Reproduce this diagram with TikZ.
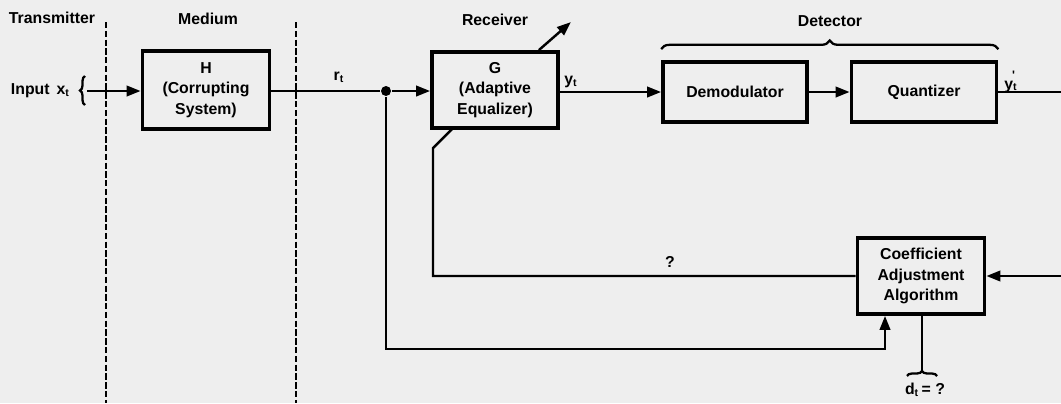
\documentclass[tikz,border=0pt]{standalone}
\usepackage{fontspec}
\setsansfont{Liberation Sans}
\usetikzlibrary{arrows.meta, positioning, calc, decorations.pathreplacing}
\definecolor{cpaper}{HTML}{EEEEEE}
\tikzset{
  every picture/.style={font=\sffamily\bfseries\fontsize{9}{11.5}\selectfont, line width=1.4pt},
  block/.style={draw, line width=2.2pt, align=center, inner sep=2pt},
  arrow/.style={-{Triangle[length=2.8mm, width=2.1mm]}, line width=1.4pt},
  border/.style={dash pattern=on 3.6pt off 1.4pt, line width=1.5pt},
  tag/.style={inner sep=1pt},
  curly/.style={decorate, decoration={brace, amplitude=#1}, line width=1.3pt},
  curly/.default=0.16cm,
}

\begin{document}
\begin{tikzpicture}[x=0.02cm, y=-0.02cm]
  \fill[cpaper] (0,0) rectangle (1061,403);
  \useasboundingbox (0,0) rectangle (1061,403);

  % section titles
  \node[tag] (tx) at (52,18) {Transmitter};
  \node[tag] (med) at (208,19) {Medium};
  \node[tag] (rcv) at (495,20) {Receiver};
  \node[tag] (det) at (830,21) {Detector};

  % borders between sections
  \draw[border] (106,22) -- (106,403);
  \draw[border] (296,22) -- (296,403);

  % blocks
  \node[block, minimum width=2.54cm, minimum height=1.56cm] (hbox) at (206,90) {H\\(Corrupting\\System)};
  \node[block, minimum width=2.52cm, minimum height=1.52cm] (gbox) at (495,90) {G\\(Adaptive\\Equalizer)};
  \node[block, minimum width=2.88cm, minimum height=1.2cm] (demod) at (735,92) {Demodulator};
  \node[block, minimum width=2.9cm, minimum height=1.2cm] (quant) at (924,92) {Quantizer};
  \node[block, minimum width=2.54cm, minimum height=1.52cm] (coef) at (921,276) {Coefficient\\Adjustment\\Algorithm};

  % input
  \node[tag, anchor=west] (input) at (8,91) {Input\, x\textsubscript{t}};
  \draw[curly=0.1cm] (85,105) -- (85,76);
  \coordinate (in) at (87,91);
  \draw[arrow] (in) -- (hbox.west |- in);

  % forward path
  \node[circle, fill, inner sep=0pt, minimum size=0.2cm] (split) at (386,91) {};
  \draw (hbox.east |- split) -- (split);
  \draw[arrow] (split) -- (gbox.west |- split);
  \node[tag] (rt) at (339,77) {r\textsubscript{t}};
  \draw[arrow] (gbox.east |- demod) -- (demod);
  \node[tag] (yt) at (571,82) {y\textsubscript{t}};
  \draw[arrow] (demod) -- (quant);
  \coordinate (out) at (1061,92);
  \draw (quant) -- (out);
  \node[tag] (ytp) at (1011,82) {y\textsubscript{t}\llap{\raisebox{1.1ex}{\scriptsize\textquotesingle}\,}};
  \draw[curly=0.17cm] ($(demod.north west)+(0,-11)$) -- ($(quant.north east)+(0,-11)$);

  % adaptation of G
  \coordinate (adj) at ($(gbox.north east)+(-21,0)$);
  \draw[arrow] (adj) -- ++(32,-28);
  \coordinate (ctl) at (433,148);
  \node[tag] (q) at (670,262) {?};
  \draw (coef.west) -| (ctl) -- ++(20,-20);

  % feedback into the algorithm
  \coordinate (fb) at (1061,276);
  \draw[arrow] (fb) -- (coef);
  \coordinate (low) at (885,349);
  \draw[arrow] (split) |- (low) -- (low |- coef.south);

  % desired signal
  \coordinate (dtop) at (922,372);
  \draw (coef.south -| dtop) -- (dtop);
  \draw[curly=0.1cm] (907,376) -- (937,376);
  \node[tag] (dt) at (925,390) {d\textsubscript{t}\,= ?};
\end{tikzpicture}
\end{document}
